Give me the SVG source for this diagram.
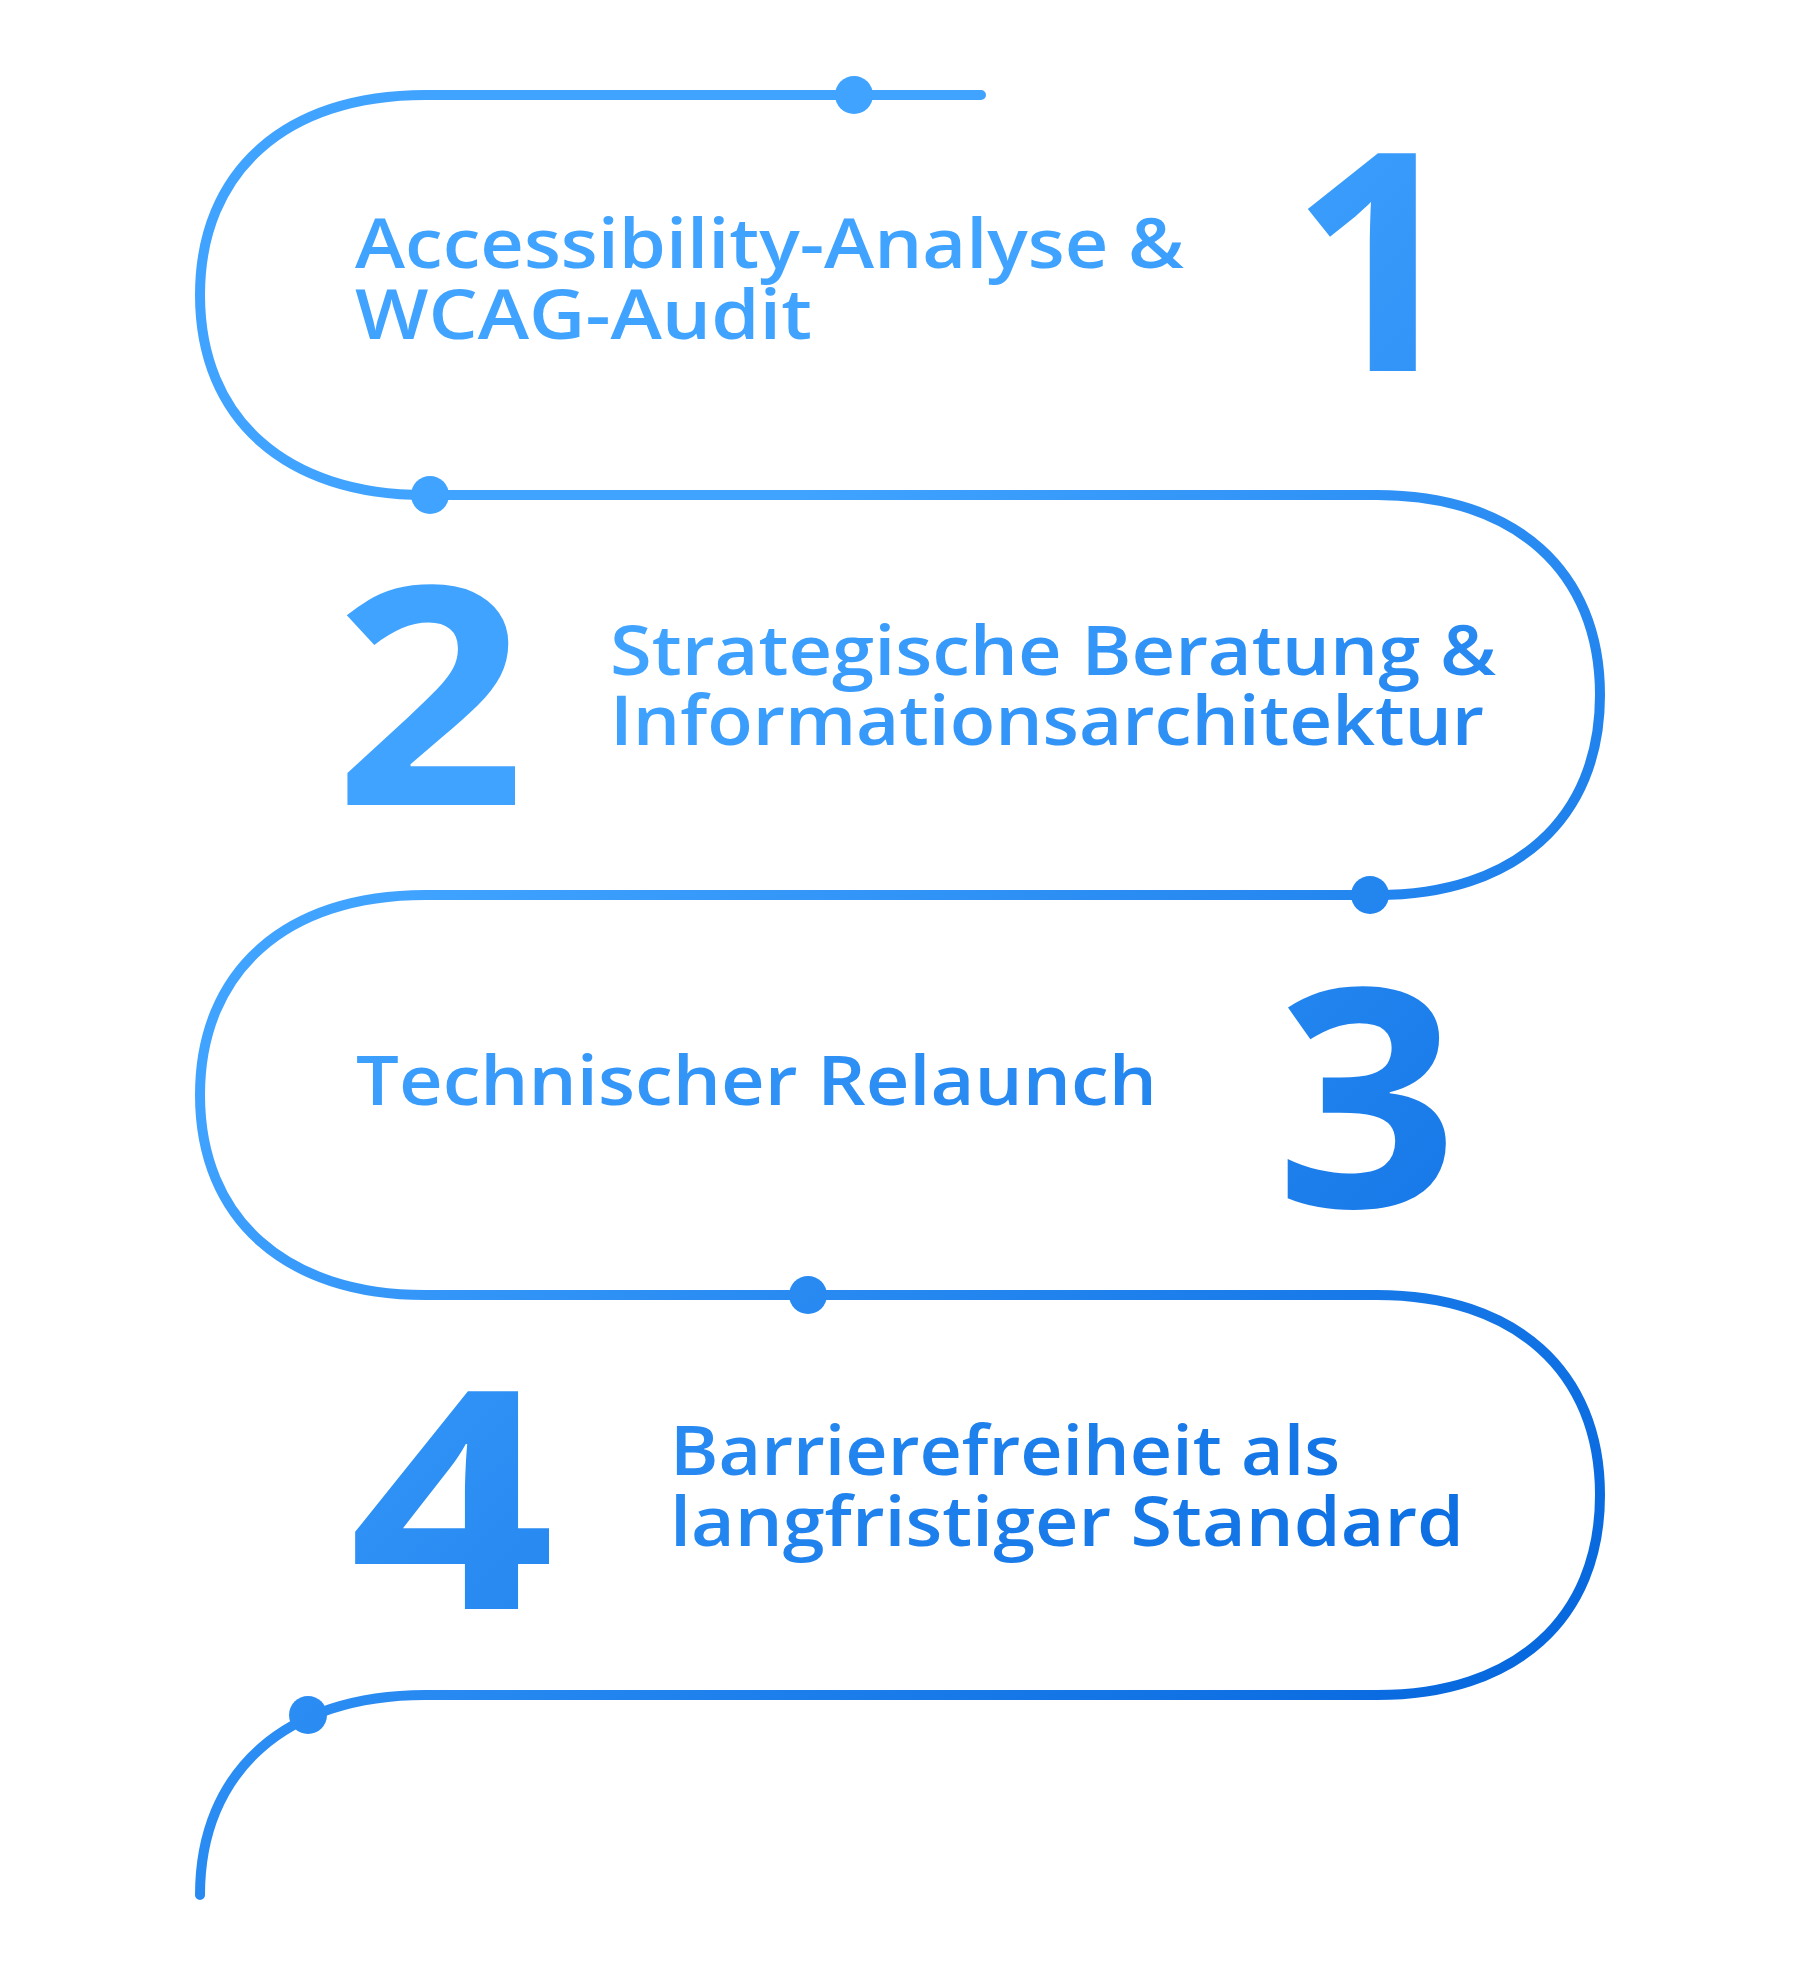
<svg xmlns="http://www.w3.org/2000/svg" width="1800" height="1979" viewBox="0 0 1800 1979">
  <defs>
    <linearGradient id="g" gradientUnits="userSpaceOnUse" x1="600" y1="700" x2="1600" y2="1700">
      <stop offset="0" stop-color="#40a3ff"/>
      <stop offset="1" stop-color="#0465dd"/>
    </linearGradient>
    <style>
      .path { fill: none; stroke: url(#g); stroke-width: 10; stroke-linecap: round; stroke-linejoin: round; }
      .dot { fill: url(#g); }
      .label { fill: url(#g); font-family: "Open Sans", "Liberation Sans", sans-serif; font-weight: 600; font-size: 68px; }
      .num { fill: url(#g); font-family: "Open Sans", "Liberation Sans", sans-serif; font-weight: 700; font-size: 305px; text-anchor: middle; }
    </style>
  </defs>
  <rect width="1800" height="1979" fill="#ffffff"/>
  <g id="connectors">
    <path class="path" d="M981 95 L425 95 C286 95 200 171 200 295 C200 419 286 495 425 495 L1377 495 C1515 495 1600 571 1600 695 C1600 819 1515 895 1377 895 L425 895 C286 895 200 971 200 1095 C200 1219 286 1295 425 1295 L1377 1295 C1515 1295 1600 1371 1600 1495 C1600 1619 1515 1695 1377 1695 L425 1695 C286 1695 200 1771 200 1895"/>
    <circle class="dot" cx="854" cy="95" r="19"/>
    <circle class="dot" cx="430" cy="495" r="19"/>
    <circle class="dot" cx="1370" cy="895" r="19"/>
    <circle class="dot" cx="808" cy="1295" r="19"/>
    <circle class="dot" cx="308" cy="1715" r="19"/>
  </g>
  <g id="step1">
    <text class="num" x="1377" y="371">1</text>
    <text class="label" x="355" y="268" textLength="829" lengthAdjust="spacingAndGlyphs">Accessibility-Analyse &amp;</text>
    <text class="label" x="355" y="339" textLength="457" lengthAdjust="spacingAndGlyphs">WCAG-Audit</text>
  </g>
  <g id="step2">
    <text class="num" x="430" y="805" textLength="192" lengthAdjust="spacingAndGlyphs">2</text>
    <text class="label" x="610" y="675" textLength="886" lengthAdjust="spacingAndGlyphs">Strategische Beratung &amp;</text>
    <text class="label" x="610" y="745" textLength="874" lengthAdjust="spacingAndGlyphs">Informationsarchitektur</text>
  </g>
  <g id="step3">
    <text class="num" x="1367" y="1207" textLength="183" lengthAdjust="spacingAndGlyphs">3</text>
    <text class="label" x="356" y="1105" textLength="801" lengthAdjust="spacingAndGlyphs">Technischer Relaunch</text>
  </g>
  <g id="step4">
    <text class="num" x="452" y="1609" textLength="206" lengthAdjust="spacingAndGlyphs">4</text>
    <text class="label" x="670" y="1475" textLength="670" lengthAdjust="spacingAndGlyphs">Barrierefreiheit als</text>
    <text class="label" x="670" y="1546" textLength="794" lengthAdjust="spacingAndGlyphs">langfristiger Standard</text>
  </g>
</svg>
